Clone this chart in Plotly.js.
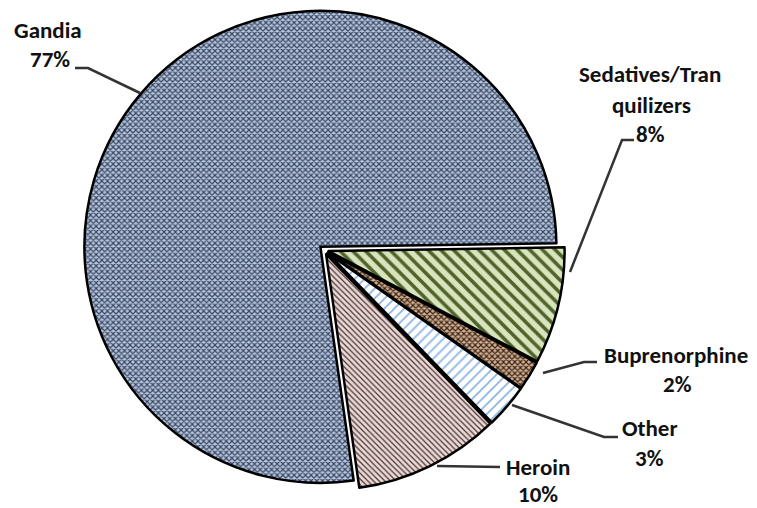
<!DOCTYPE html>
<html>
<head>
<meta charset="utf-8">
<script src="https://cdn.plot.ly/plotly-3.0.1.min.js"></script>
<style>html,body{margin:0;padding:0;background:#fff;}#chart{width:757px;height:508px;}</style>
</head>
<body>
<div id="chart"></div>
<script>
// ---- data ----
var labels = ['Gandia', 'Sedatives/Tranquilizers', 'Buprenorphine', 'Other', 'Heroin'];
var values = [77, 8, 2, 3, 10];
// label lines as printed on the chart
var labelLines = [
  ['Gandia', '77%'],
  ['Sedatives/Tran', 'quilizers', '8%'],
  ['Buprenorphine', '2%'],
  ['Other', '3%'],
  ['Heroin', '10%']
];

// ---- styles ----
var bgColors = ['#b4c7e7', '#d7e4bd', '#d9b08f', '#ffffff', '#f0d8d5'];
var fgColors = ['#3c4656', '#4f6228', '#33251b', '#8db4e2', '#3d3636'];
var shapes = ['x', '\\', 'x', '/', '\\'];
var sizes = [4, 9, 4, 7, 4];
var solid = [0.5, 0.4, 0.5, 0.25, 0.3];

var W = 757, H = 508;
function px(x) { return x / W; }
function py(y) { return 1 - y / H; }

// label line centres (pixels) and leader paths (pixels)
var labelPos = [
  [[48, 30], [50, 59]],
  [[650, 74], [651, 105], [650, 134]],
  [[676, 355], [677, 384]],
  [[650, 428], [649, 458]],
  [[538, 467], [538, 494]]
];
var leaders = [
  [[140, 93], [88, 68], [75, 68]],
  [[570, 272], [622, 140], [634, 140]],
  [[543, 373], [584, 362], [597, 362]],
  [[512, 405], [604, 437], [618, 437]],
  [[437, 466], [500, 467]]
];

var trace = {
  type: 'pie',
  labels: labels,
  values: values,
  sort: false,
  direction: 'clockwise',
  rotation: 171.9,
  pull: [0.02, 0.02, 0.02, 0.02, 0.02],
  textinfo: 'none',
  hoverinfo: 'label+percent',
  showlegend: false,
  domain: {x: [0.110, 0.746], y: [0.034, 0.982]},
  marker: {
    colors: bgColors,
    line: {color: '#000000', width: 2.5},
    pattern: {
      shape: shapes,
      fgcolor: fgColors,
      bgcolor: bgColors,
      size: sizes,
      solidity: solid,
      fillmode: 'replace'
    }
  }
};

var annotations = [];
labelLines.forEach(function (lines, i) {
  lines.forEach(function (t, j) {
    var p = labelPos[i][j];
    annotations.push({
      xref: 'paper', yref: 'paper',
      x: px(p[0]), y: py(p[1]),
      xanchor: 'center', yanchor: 'middle',
      text: t, showarrow: false,
      font: {family: 'Carlito, "Liberation Sans", Arial, sans-serif', size: 23, color: '#111111', weight: 'bold'}
    });
  });
});

var shapeList = leaders.map(function (pts) {
  var d = pts.map(function (p, k) { return (k ? 'L' : 'M') + px(p[0]) + ',' + py(p[1]); }).join(' ');
  return {type: 'path', xref: 'paper', yref: 'paper', path: d,
          line: {color: '#333333', width: 2.5}};
});

var layout = {
  width: W, height: H,
  margin: {l: 0, r: 0, t: 0, b: 0},
  paper_bgcolor: '#ffffff',
  plot_bgcolor: '#ffffff',
  showlegend: false,
  annotations: annotations,
  shapes: shapeList
};

Plotly.newPlot('chart', [trace], layout, {displayModeBar: false, staticPlot: true});
</script>
</body>
</html>
